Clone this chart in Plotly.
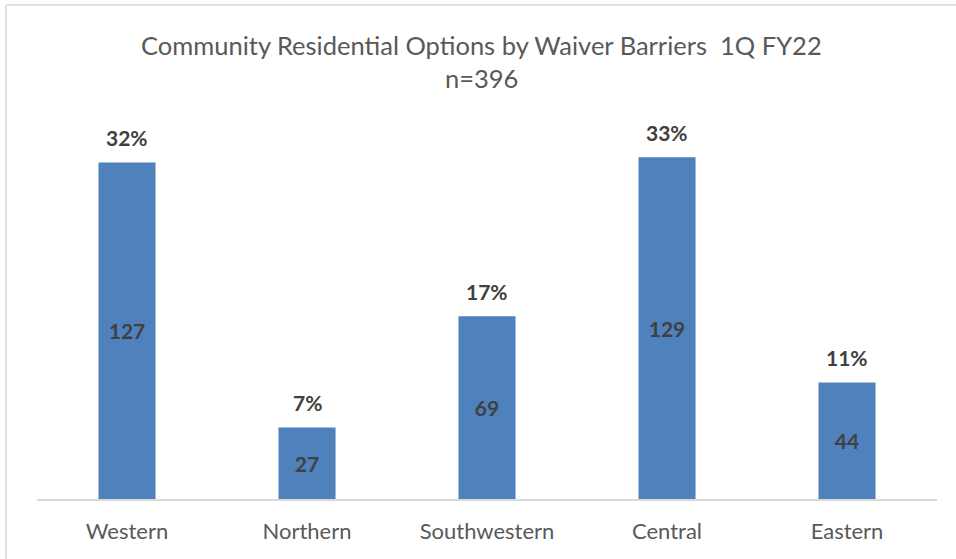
import plotly.graph_objects as go

categories = ["Western", "Northern", "Southwestern", "Central", "Eastern"]
counts = [127, 27, 69, 129, 44]
percent_labels = ["32%", "7%", "17%", "33%", "11%"]
title_line1 = "Community Residential Options by Waiver Barriers  1Q FY22"
title_line2 = "n=396"

BAR_COLOR = "#4F81BD"
FONT = "Lato"

# plot area in pixels: left 37, right 937, top 119, bottom 499
def ypix(p):
    return (499 - p) / 380.0

def xpix(p):
    return (p - 37) / 900.0

fig = go.Figure()
fig.add_trace(go.Bar(
    x=categories, y=counts,
    marker=dict(color=BAR_COLOR, line=dict(width=0)),
    text=[str(c) for c in counts],
    textposition="inside", insidetextanchor="middle",
    textfont=dict(family=FONT, size=21, color="#404040", weight="bold"),
    textangle=0,
    cliponaxis=False,
    width=0.317,
    hoverinfo="skip",
))

anns = []
for cat, c, p in zip(categories, counts, percent_labels):
    anns.append(dict(
        x=cat, y=c, xref="x", yref="y", text=f"<b>{p}</b>", showarrow=False,
        yanchor="bottom", yshift=10,
        font=dict(family=FONT, size=21, color="#404040"),
    ))
anns.append(dict(x=xpix(481), y=ypix(45), xref="paper", yref="paper", text=title_line1,
                 showarrow=False, yanchor="middle", xanchor="center",
                 font=dict(family=FONT, size=25.5, color="#595959")))
anns.append(dict(x=xpix(481), y=ypix(78), xref="paper", yref="paper", text=title_line2,
                 showarrow=False, yanchor="middle", xanchor="center",
                 font=dict(family=FONT, size=25.5, color="#595959")))

fig.update_layout(
    width=956, height=559,
    margin=dict(l=37, r=19, t=119, b=60),
    paper_bgcolor="white", plot_bgcolor="white",
    showlegend=False,
    font=dict(family=FONT, color="#595959"),
    xaxis=dict(showline=True, linecolor="#D9D9D9", linewidth=1.5, ticks="",
               tickfont=dict(family=FONT, size=22, color="#595959"),
               ticklabelstandoff=12, fixedrange=True),
    yaxis=dict(range=[0, 143.4], visible=False, showgrid=False, zeroline=False,
               fixedrange=True),
    annotations=anns,
)

# outer chart border: only top and left edges visible in the reference
fig.add_shape(type="line", xref="paper", yref="paper",
              x0=xpix(6), x1=xpix(960), y0=ypix(5), y1=ypix(5),
              line=dict(color="#D9D9D9", width=1.5), layer="below")
fig.add_shape(type="line", xref="paper", yref="paper",
              x0=xpix(6), x1=xpix(6), y0=ypix(5), y1=ypix(565),
              line=dict(color="#D9D9D9", width=1.5), layer="below")

fig.write_html("out.html", config={"displayModeBar": False},
               post_script="document.body.style.margin='0';")
